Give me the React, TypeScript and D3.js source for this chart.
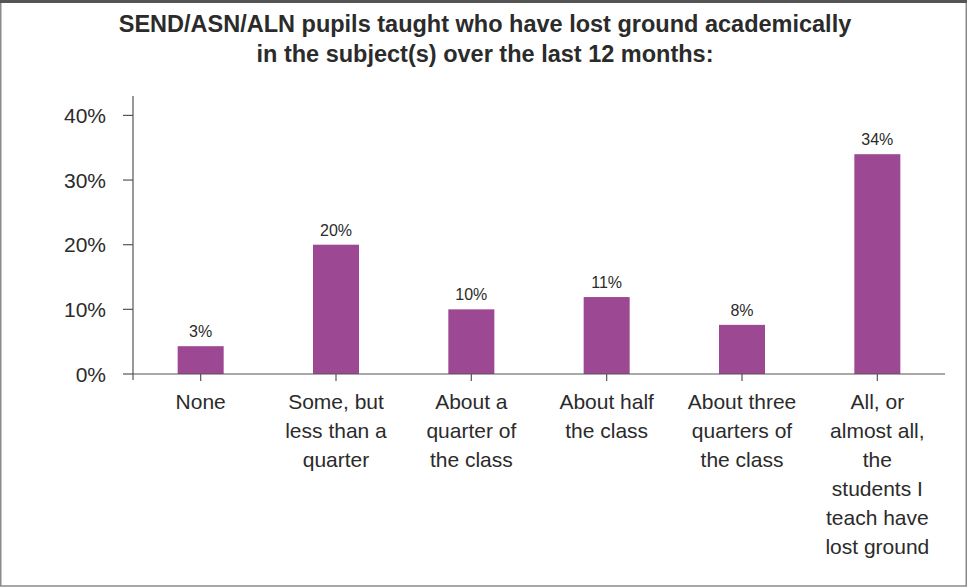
import * as d3 from 'd3';
import React from 'react';
import { useRef, useEffect } from 'react';

const titleLines = [
  'SEND/ASN/ALN pupils taught who have lost ground academically',
  'in the subject(s) over the last 12 months:',
];

const categories = [
  ['None'],
  ['Some, but', 'less than a', 'quarter'],
  ['About a', 'quarter of', 'the class'],
  ['About half', 'the class'],
  ['About three', 'quarters of', 'the class'],
  ['All, or', 'almost all,', 'the', 'students I', 'teach have', 'lost ground'],
];

// bar heights as drawn, and the labels printed above them
const values = [4.3, 20, 10, 11.9, 7.6, 34];
const valueLabels = ['3%', '20%', '10%', '11%', '8%', '34%'];

const yTicks = [0, 10, 20, 30, 40];

const width = 967;
const height = 587;
const font = '"Liberation Sans", Arial, Helvetica, sans-serif';
const textColor = '#2b2b2b';
const barColor = '#9c4892';
const axisColor = '#555';

export default function App() {
  const svgRef = useRef<SVGSVGElement | null>(null);

  useEffect(() => {
    if (!svgRef.current) return;
    const svg = d3.select(svgRef.current);
    svg.selectAll('*').remove();

    const x = d3
      .scaleBand<number>()
      .domain(d3.range(categories.length))
      .range([133, 945])
      .paddingInner(0.66)
      .paddingOuter(0.33);

    const y = d3.scaleLinear().domain([0, 43]).range([374, 96]);

    // frame
    svg
      .append('rect')
      .attr('x', 0.75)
      .attr('y', 1)
      .attr('width', width - 1.5)
      .attr('height', height - 2)
      .attr('fill', 'white')
      .attr('stroke', '#8a8a8a')
      .attr('stroke-width', 1.5);
    svg
      .append('line')
      .attr('x1', 0)
      .attr('x2', width)
      .attr('y1', 1.5)
      .attr('y2', 1.5)
      .attr('stroke', '#555')
      .attr('stroke-width', 3);

    // title
    svg
      .append('text')
      .attr('x', width / 2)
      .attr('text-anchor', 'middle')
      .attr('font-family', font)
      .attr('font-weight', 'bold')
      .attr('font-size', 23.5)
      .attr('fill', textColor)
      .selectAll('tspan')
      .data(titleLines)
      .join('tspan')
      .attr('x', 485)
      .attr('y', (_, i) => 32 + i * 30)
      .text((d) => d);

    // bars
    svg
      .append('g')
      .selectAll('rect')
      .data(values)
      .join('rect')
      .attr('x', (_, i) => x(i)!)
      .attr('y', (d) => y(d))
      .attr('width', x.bandwidth())
      .attr('height', (d) => y(0) - y(d))
      .attr('fill', barColor);

    // value labels
    svg
      .append('g')
      .selectAll('text')
      .data(values)
      .join('text')
      .attr('x', (_, i) => x(i)! + x.bandwidth() / 2)
      .attr('y', (d) => y(d) - 9)
      .attr('text-anchor', 'middle')
      .attr('font-family', font)
      .attr('font-size', 16)
      .attr('fill', textColor)
      .text((_, i) => valueLabels[i]);

    // y axis
    const yAxis = svg.append('g');
    yAxis
      .append('line')
      .attr('x1', 133)
      .attr('x2', 133)
      .attr('y1', 96)
      .attr('y2', 380)
      .attr('stroke', axisColor)
      .attr('stroke-width', 1.2);
    yAxis
      .selectAll('line.tick')
      .data(yTicks)
      .join('line')
      .attr('class', 'tick')
      .attr('x1', 123)
      .attr('x2', 133)
      .attr('y1', (d) => y(d))
      .attr('y2', (d) => y(d))
      .attr('stroke', axisColor)
      .attr('stroke-width', 1.2);
    yAxis
      .selectAll('text')
      .data(yTicks)
      .join('text')
      .attr('x', 106)
      .attr('y', (d) => y(d) + 7.5)
      .attr('text-anchor', 'end')
      .attr('font-family', font)
      .attr('font-size', 21)
      .attr('fill', textColor)
      .text((d) => `${d}%`);

    // x axis
    const xAxis = svg.append('g');
    xAxis
      .append('line')
      .attr('x1', 133)
      .attr('x2', 945)
      .attr('y1', y(0))
      .attr('y2', y(0))
      .attr('stroke', axisColor)
      .attr('stroke-width', 1.2);
    xAxis
      .selectAll('line.tick')
      .data(categories)
      .join('line')
      .attr('class', 'tick')
      .attr('x1', (_, i) => x(i)! + x.bandwidth() / 2)
      .attr('x2', (_, i) => x(i)! + x.bandwidth() / 2)
      .attr('y1', y(0))
      .attr('y2', y(0) + 7)
      .attr('stroke', axisColor)
      .attr('stroke-width', 1.2);
    xAxis
      .selectAll('text')
      .data(categories)
      .join('text')
      .attr('text-anchor', 'middle')
      .attr('font-family', font)
      .attr('font-size', 21)
      .attr('fill', textColor)
      .each(function (lines, i) {
        const cx = x(i)! + x.bandwidth() / 2;
        d3.select(this)
          .selectAll('tspan')
          .data(lines)
          .join('tspan')
          .attr('x', cx)
          .attr('y', (_, j) => 409 + j * 29)
          .text((d) => d);
      });
  }, []);

  return (
    <svg
      ref={svgRef}
      width={width}
      height={height}
      style={{ position: 'absolute', left: 0, top: 0, display: 'block' }}
    />
  );
}
